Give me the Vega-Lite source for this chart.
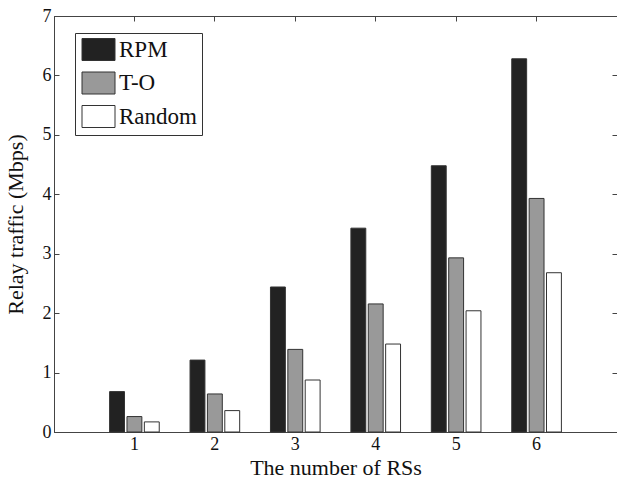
{
  "$schema": "https://vega.github.io/schema/vega-lite/v6.json",
  "width": 563,
  "height": 416,
  "autosize": {"type": "none"},
  "padding": {"left": 54, "top": 16, "right": 0, "bottom": 48},
  "background": "white",
  "config": {
    "font": "Liberation Serif",
    "view": {"stroke": "#444", "strokeWidth": 1},
    "axis": {
      "grid": false,
      "domainColor": "#444",
      "tickColor": "#444",
      "tickSize": -5,
      "labelFont": "Liberation Serif",
      "labelFontSize": 18,
      "labelColor": "#111",
      "titleFont": "Liberation Serif",
      "titleFontSize": 22,
      "titleFontWeight": "normal",
      "titleColor": "#111"
    }
  },
  "data": {
    "values": [
      {"n": "1", "method": "RPM", "v": 0.68},
      {"n": "1", "method": "T-O", "v": 0.26},
      {"n": "1", "method": "Random", "v": 0.17},
      {"n": "2", "method": "RPM", "v": 1.21},
      {"n": "2", "method": "T-O", "v": 0.64},
      {"n": "2", "method": "Random", "v": 0.36},
      {"n": "3", "method": "RPM", "v": 2.44},
      {"n": "3", "method": "T-O", "v": 1.39},
      {"n": "3", "method": "Random", "v": 0.875},
      {"n": "4", "method": "RPM", "v": 3.43},
      {"n": "4", "method": "T-O", "v": 2.155},
      {"n": "4", "method": "Random", "v": 1.48},
      {"n": "5", "method": "RPM", "v": 4.48},
      {"n": "5", "method": "T-O", "v": 2.93},
      {"n": "5", "method": "Random", "v": 2.04},
      {"n": "6", "method": "RPM", "v": 6.28},
      {"n": "6", "method": "T-O", "v": 3.93},
      {"n": "6", "method": "Random", "v": 2.68}
    ]
  },
  "layer": [
    {
      "mark": {"type": "bar", "stroke": "#333", "strokeWidth": 1},
      "encoding": {
        "x": {
          "field": "n", "type": "ordinal",
          "scale": {"paddingInner": 0, "paddingOuter": 0.5},
          "axis": {"orient": "bottom", "labelAngle": 0, "labelPadding": 8, "title": "The number of RSs", "titlePadding": 4}
        },
        "xOffset": {
          "field": "method", "type": "nominal", "sort": ["RPM", "T-O", "Random"],
          "scale": {"paddingInner": 0.143, "paddingOuter": 0.886}
        },
        "y": {
          "field": "v", "type": "quantitative",
          "scale": {"domain": [0, 7], "nice": false, "zero": true},
          "axis": {"orient": "left", "values": [0, 1, 2, 3, 4, 5, 6, 7], "labelPadding": 8, "title": "Relay traffic (Mbps)", "titlePadding": 15}
        },
        "fill": {
          "field": "method", "type": "nominal",
          "scale": {"domain": ["RPM", "T-O", "Random"], "range": ["#222222", "#999999", "#ffffff"]},
          "legend": {
            "orient": "none", "legendX": 21, "legendY": 17,
            "title": null, "padding": 5, "rowPadding": 6.5,
            "strokeColor": "#333", "fillColor": "white",
            "symbolType": "M-1.5,-1L1.5,-1L1.5,1L-1.5,1Z",
            "symbolSize": 484, "symbolOffset": 7, "symbolStrokeColor": "#333", "symbolStrokeWidth": 1,
            "symbolOpacity": 1,
            "labelOffset": 9, "labelFont": "Liberation Serif", "labelFontSize": 23, "labelColor": "#111"
          }
        }
      }
    },
    {
      "mark": {"type": "tick", "opacity": 0},
      "encoding": {
        "x": {"field": "n", "type": "ordinal", "axis": {"orient": "top", "labels": false, "title": null}},
        "y": {"field": "v", "type": "quantitative", "axis": {"orient": "right", "labels": false, "title": null, "values": [0, 1, 2, 3, 4, 5, 6, 7]}}
      }
    }
  ],
  "resolve": {"axis": {"x": "independent", "y": "independent"}}
}
